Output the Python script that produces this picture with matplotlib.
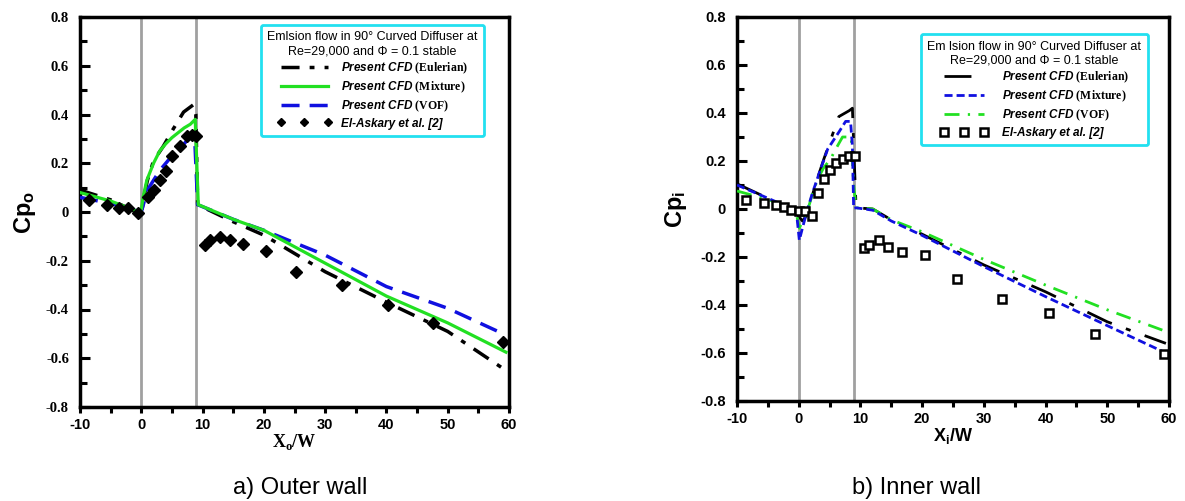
import matplotlib
matplotlib.use("Agg")
import matplotlib.pyplot as plt
from matplotlib.ticker import MultipleLocator, FixedLocator

plt.rcParams['mathtext.fontset'] = 'custom'
plt.rcParams['mathtext.it'] = 'Liberation Sans:italic:bold'
plt.rcParams['mathtext.rm'] = 'Liberation Serif:bold'
plt.rcParams['mathtext.sf'] = 'Liberation Sans:bold'
plt.rcParams['font.family'] = ['Liberation Sans', 'DejaVu Sans']

# ---------------- data: outer wall (a) ----------------
outer_eul_x = [-10, -5, 0, 0.5, 1, 2, 3.6, 5.2, 6.9, 8.5, 8.9, 9.2, 15, 20, 30, 40, 50, 59.5]
outer_eul_y = [0.09, 0.05, -0.01, 0.07, 0.13, 0.21, 0.27, 0.34, 0.41, 0.44, 0.40, 0.03, -0.04, -0.095, -0.245, -0.37, -0.49, -0.65]

outer_mix_x = [-10, -5, -0.3, 0, 0.3, 0.9, 2, 3, 4, 5, 6, 7, 8, 8.8, 9.3, 15, 20, 30, 40, 50, 59.5]
outer_mix_y = [0.08, 0.045, 0.0, 0.01, 0.06, 0.13, 0.2, 0.25, 0.28, 0.305, 0.325, 0.345, 0.36, 0.38, 0.03, -0.03, -0.075, -0.21, -0.345, -0.455, -0.575]

outer_vof_x = [-10, -5, 0, 1, 2, 3, 4, 5, 6, 7, 8, 8.7, 9.2, 15, 20, 30, 40, 50, 59.5]
outer_vof_y = [0.06, 0.035, 0.0, 0.09, 0.13, 0.17, 0.2, 0.23, 0.255, 0.28, 0.31, 0.31, 0.03, -0.03, -0.075, -0.177, -0.306, -0.395, -0.505]

outer_exp_x = [-8.6, -5.6, -3.7, -2.1, -0.5, 1.1, 2.1, 3.0, 4.1, 5.0, 6.3, 7.4, 8.2, 9.0,
               10.4, 11.2, 12.8, 14.4, 16.6, 20.3, 25.3, 32.7, 40.3, 47.6, 59.0]
outer_exp_y = [0.049, 0.029, 0.016, 0.016, -0.005, 0.063, 0.09, 0.13, 0.17, 0.23, 0.27, 0.31, 0.315, 0.31,
               -0.135, -0.115, -0.104, -0.115, -0.13, -0.16, -0.245, -0.30, -0.38, -0.455, -0.535]

# ---------------- data: inner wall (b) ----------------
inner_eul_x = [-10, -5, -1, 0, 0.6, 1.2, 1.8, 2.5, 4.1, 5.2, 6.5, 8.2, 8.7, 9.0, 9.3, 12, 15, 20, 30, 40, 50, 54.3, 59.5]
inner_eul_y = [0.105, 0.045, -0.01, -0.03, -0.05, -0.03, 0.01, 0.086, 0.21, 0.29, 0.385, 0.41, 0.42, 0.2, 0.005, 0.0, -0.045, -0.105, -0.233, -0.345, -0.47, -0.511, -0.56]

inner_mix_x = [-10, -5, -1, -0.3, 0.1, 0.7, 1.4, 2.2, 3.6, 4.7, 6.5, 7.6, 8.4, 8.7, 8.9, 9.3, 12, 15, 20, 30, 40, 50, 59.5]
inner_mix_y = [0.1, 0.045, 0.0, -0.03, -0.13, -0.07, -0.004, 0.065, 0.17, 0.25, 0.32, 0.365, 0.365, 0.26, 0.003, 0.005, -0.005, -0.05, -0.11, -0.24, -0.365, -0.486, -0.6]

inner_vof_x = [-10, -5, -1, -0.3, 0.1, 0.8, 1.5, 2.2, 3, 4, 5.2, 6, 7.1, 8.5, 8.9, 9.3, 12, 15, 20, 30, 40, 50, 59.5]
inner_vof_y = [0.075, 0.04, 0.0, -0.03, -0.08, -0.04, 0.0, 0.06, 0.12, 0.17, 0.21, 0.25, 0.30, 0.30, 0.1, 0.005, 0.0, -0.045, -0.095, -0.21, -0.317, -0.42, -0.51]

inner_exp_x = [-8.6, -5.6, -3.7, -2.4, -1.3, 0.05, 0.97, 2.2, 3.1, 4.1, 5.1, 6.0, 7.1, 8.2, 9.2,
               10.5, 11.4, 13.0, 14.5, 16.7, 20.5, 25.6, 33.0, 40.5, 48.0, 59.2]
inner_exp_y = [0.0375, 0.024, 0.017, 0.007, -0.004, -0.007, -0.008, -0.029, 0.065, 0.124, 0.162, 0.193, 0.21, 0.22, 0.22,
               -0.164, -0.15, -0.129, -0.16, -0.178, -0.19, -0.29, -0.375, -0.435, -0.52, -0.605]

x_ticks = [-10, 0, 10, 20, 30, 40, 50, 60]
y_ticks = [-0.8, -0.6, -0.4, -0.2, 0, 0.2, 0.4, 0.6, 0.8]
y_tick_labels = ['-0.8', '-0.6', '-0.4', '-0.2', '0', '0.2', '0.4', '0.6', '0.8']
wall_lines = [0, 9]

fig = plt.figure(figsize=(11.85, 5.01), dpi=100)
axA = fig.add_axes([80/1185, 1-407/501, (509-80)/1185, (407-17)/501])
axB = fig.add_axes([737/1185, 1-401/501, (1169-737)/1185, (401-17)/501])

def style_axes(ax, ytick_family):
    ax.set_xlim(-10, 60)
    ax.set_ylim(-0.8, 0.8)
    ax.xaxis.set_major_locator(FixedLocator(x_ticks))
    ax.xaxis.set_minor_locator(MultipleLocator(5))
    ax.yaxis.set_major_locator(FixedLocator(y_ticks))
    ax.yaxis.set_minor_locator(MultipleLocator(0.1))
    ax.set_yticklabels(y_tick_labels, fontfamily=ytick_family, fontweight='bold', fontsize=10.5)
    ax.set_xticklabels([str(v) for v in x_ticks], fontfamily='Liberation Sans', fontweight='bold', fontsize=10.5)
    ax.tick_params(axis='y', which='major', direction='in', length=7, width=2.2, pad=8)
    ax.tick_params(axis='y', which='minor', direction='in', length=5, width=2.2)
    ax.tick_params(axis='x', which='both', direction='out', length=4, width=2.2, pad=4)
    for s in ax.spines.values():
        s.set_linewidth(2.5)
        s.set_color('black')
    for xv in wall_lines:
        ax.axvline(xv, color='#a0a0a0', lw=2, zorder=1)

def style_legend(leg):
    leg.get_frame().set_linewidth(2)
    leg.get_title().set_fontsize(9)
    leg.get_title().set_multialignment('center')
    t = leg.get_texts()[3]
    t.set_fontstyle('italic')
    t.set_fontweight('bold')

# ---------------- panel a ----------------
style_axes(axA, 'Liberation Serif')
axA.plot(outer_eul_x, outer_eul_y, color='black', lw=2.5, dashes=(5.2, 2.9, 1.4, 2.9), zorder=3,
         label=r'$\mathit{Present\ CFD}$ $\mathrm{(Eulerian)}$')
axA.plot(outer_mix_x, outer_mix_y, color='#22e022', lw=2.3, zorder=4,
         label=r'$\mathit{Present\ CFD}$ $\mathrm{(Mixture)}$')
axA.plot(outer_vof_x, outer_vof_y, color='#1010e0', lw=2.5, dashes=(5.2, 2.9), zorder=3,
         label=r'$\mathit{Present\ CFD}$ $\mathrm{(VOF)}$')
axA.plot(outer_exp_x, outer_exp_y, ls='none', marker='D', ms=6, color='black', zorder=5,
         label='El-Askary et al. [2]')
legA = axA.legend(title='Emlsion flow in 90° Curved Diffuser at\nRe=29,000 and Φ = 0.1 stable',
                  loc='upper right', bbox_to_anchor=(0.956, 0.995), fontsize=8.5, numpoints=3,
                  markerscale=0.75,
                  handlelength=4.6, handletextpad=0.8, labelspacing=0.3, borderpad=0.55,
                  fancybox=True, frameon=True, edgecolor='#22e0f0', framealpha=1)
style_legend(legA)
axA.set_ylabel(r'$\mathsf{Cp}_{\mathsf{o}}$', fontsize=17, labelpad=6)
axA.set_xlabel(r'$\mathrm{X}_{\mathrm{o}}\mathrm{/W}$', fontsize=13, labelpad=0)

# ---------------- panel b ----------------
style_axes(axB, 'Liberation Sans')
axB.plot(inner_eul_x, inner_eul_y, color='black', lw=2, dashes=(9.7, 5.4, 1.8, 5.4), zorder=3,
         label=r'$\mathit{Present\ CFD}$ $\mathrm{(Eulerian)}$')
axB.plot(inner_mix_x, inner_mix_y, color='#1010e0', lw=2, dashes=(2.9, 1.45), zorder=4,
         label=r'$\mathit{Present\ CFD}$ $\mathrm{(Mixture)}$')
axB.plot(inner_vof_x, inner_vof_y, color='#22e022', lw=2, dashes=(5.4, 3, 0.8, 3), zorder=3,
         label=r'$\mathit{Present\ CFD}$ $\mathrm{(VOF)}$')
axB.plot(inner_exp_x, inner_exp_y, ls='none', marker='s', ms=6, mfc='white', mec='black', mew=1.8, zorder=5,
         label='El-Askary et al. [2]')
legB = axB.legend(title='Em lsion flow in 90° Curved Diffuser at\nRe=29,000 and Φ = 0.1 stable',
                  loc='upper right', bbox_to_anchor=(0.965, 0.971), fontsize=8.5, numpoints=3,
                  handlelength=4.0, handletextpad=1.2, labelspacing=0.3, borderpad=0.55,
                  fancybox=True, frameon=True, edgecolor='#22e0f0', framealpha=1)
style_legend(legB)
axB.set_ylabel(r'$\mathsf{Cp}_{\mathsf{i}}$', fontsize=17, labelpad=8)
axB.set_xlabel(r'$\mathsf{X}_{\mathsf{i}}\mathsf{/W}$', fontsize=13, labelpad=0)

fig.text(300/1185, 1-494/501, 'a) Outer wall', ha='center', va='baseline', fontsize=17, fontfamily='Liberation Sans')
fig.text(916/1185, 1-494/501, 'b) Inner wall', ha='center', va='baseline', fontsize=17, fontfamily='Liberation Sans')

fig.savefig('out.png', dpi=100)
